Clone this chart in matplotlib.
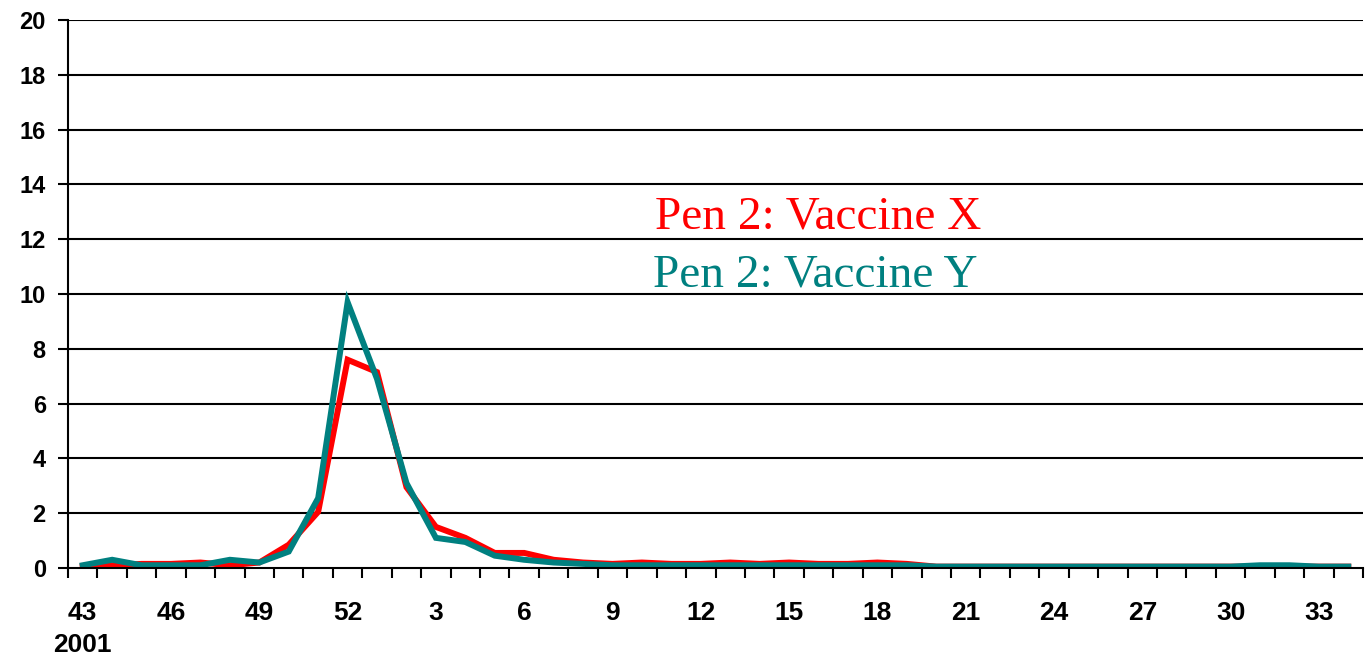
import numpy as np
from matplotlib import pyplot as plt

# weeks: 43..52 of 2001, then 1..34
weeks = list(range(43, 53)) + list(range(1, 35))

vaccine_x = [0.05, 0.1, 0.15, 0.15, 0.2, 0.1, 0.2, 0.85, 2.05, 7.6,
             7.15, 2.95, 1.5, 1.1, 0.55, 0.55, 0.3, 0.2, 0.15, 0.2,
             0.15, 0.15, 0.2, 0.15, 0.2, 0.15, 0.15, 0.2, 0.15, 0.05,
             0.05, 0.05, 0.05, 0.05, 0.05, 0.05, 0.05, 0.05, 0.05, 0.05,
             0.05, 0.05, 0.05, 0.05]
vaccine_y = [0.1, 0.3, 0.1, 0.1, 0.1, 0.3, 0.2, 0.6, 2.55, 9.7,
             6.9, 3.1, 1.1, 0.95, 0.45, 0.3, 0.2, 0.15, 0.1, 0.1,
             0.1, 0.1, 0.1, 0.1, 0.1, 0.1, 0.1, 0.1, 0.1, 0.05,
             0.05, 0.05, 0.05, 0.05, 0.05, 0.05, 0.05, 0.05, 0.05, 0.05,
             0.1, 0.1, 0.05, 0.05]

red = "#ff0000"
teal = "#008080"

fig = plt.figure(figsize=(13.69, 6.6), dpi=100)
ax = fig.add_axes([68 / 1369, 92 / 660, 1295 / 1369, 548 / 660])

x = np.arange(len(weeks))
ax.plot(x, vaccine_x, color=red, lw=4.3, solid_joinstyle="miter", zorder=3)
ax.plot(x, vaccine_y, color=teal, lw=4.3, solid_joinstyle="miter", zorder=4)

ax.set_xlim(-0.5, len(weeks) - 0.5)
ax.set_ylim(0, 20)

# horizontal grid lines
yt = np.arange(0, 21, 2)
for v in yt[1:]:
    ax.axhline(v, color="black", lw=1.5, zorder=1)

ax.set_yticks(yt)
ax.set_yticklabels([str(v) for v in yt], fontsize=17, fontweight="bold",
                   family="Liberation Sans")
ax.tick_params(axis="y", length=7, width=1.5, pad=9)

# category boundary ticks, labels every third week
ax.set_xticks(np.arange(-0.5, len(weeks), 1.0))
ax.set_xticklabels([])
ax.tick_params(axis="x", which="major", length=7, width=1.5)
lab_pos = x[::3]
ax.set_xticks(lab_pos, minor=True)
ax.set_xticklabels([str(weeks[i]) for i in lab_pos], minor=True, fontsize=19,
                   fontweight="bold", family="Liberation Sans")
ax.tick_params(axis="x", which="minor", length=0, pad=24)

ax.text(0, -0.14, "2001", transform=ax.get_xaxis_transform(), ha="center",
        va="center", fontsize=19, fontweight="bold", family="Liberation Sans")

for side in ["top", "right"]:
    ax.spines[side].set_visible(False)
ax.spines["left"].set_linewidth(1.5)
ax.spines["bottom"].set_linewidth(1.5)
ax.spines["bottom"].set_zorder(5)

ax.text(25.0, 12.8, "Pen 2: Vaccine X", color=red, fontsize=34,
        family="Liberation Serif", ha="center", va="center")
ax.text(24.9, 10.7, "Pen 2: Vaccine Y", color=teal, fontsize=34,
        family="Liberation Serif", ha="center", va="center")

plt.savefig("out.png", dpi=100)
